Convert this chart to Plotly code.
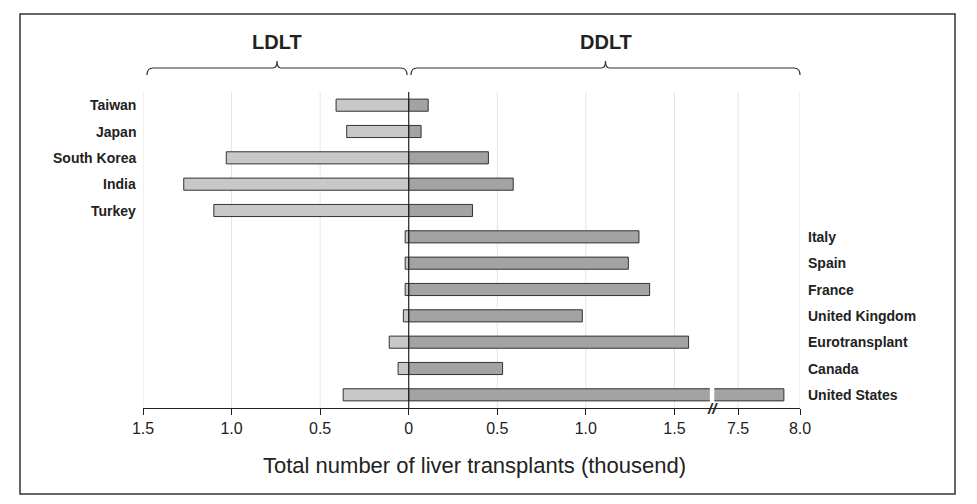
import plotly.graph_objects as go

countries = ["Taiwan", "Japan", "South Korea", "India", "Turkey", "Italy", "Spain",
             "France", "United Kingdom", "Eurotransplant", "Canada", "United States"]
ldlt = [0.41, 0.35, 1.03, 1.27, 1.10, 0.02, 0.02, 0.02, 0.03, 0.11, 0.06, 0.37]
ddlt = [0.11, 0.07, 0.45, 0.59, 0.36, 1.30, 1.24, 1.36, 0.98, 1.58, 0.53, 7.87]
label_side = ["left"] * 5 + ["right"] * 7
tick_values = [-1.5, -1.0, -0.5, 0, 0.5, 1.0, 1.5, 7.5, 8.0]
tick_labels = ["1.5", "1.0", "0.5", "0", "0.5", "1.0", "1.5", "7.5", "8.0"]


def broken(v):
    # axis break between 1.5 and 7.5
    if v < 7.5:
        return v
    return 1.859 + (v - 7.5) * 0.70


OFF = 8  # page body offset
W, H = 977, 504
L, R, T, B = 143 - OFF, 177 + OFF, 92 - OFF, 96 + OFF
pw, ph = W - L - R, H - T - B


def px(x):
    return (x - OFF - L) / pw


def py(y):
    return (H - B - (y - OFF)) / ph


fig = go.Figure()
fig.add_trace(go.Bar(y=countries, x=[-v for v in ldlt], orientation="h",
                     marker=dict(color="#c8c8ca", line=dict(color="#333", width=1)), width=0.46))
fig.add_trace(go.Bar(y=countries, x=[broken(v) for v in ddlt], orientation="h",
                     marker=dict(color="#a3a3a5", line=dict(color="#333", width=1)), width=0.46))

shapes = []
for tv in tick_values:
    if tv != 0:
        shapes.append(dict(type="line", x0=broken(tv), x1=broken(tv), y0=0, y1=1, xref="x", yref="paper",
                           line=dict(color="#e4e4e4", width=1), layer="below"))
shapes.append(dict(type="line", x0=0, x1=0, y0=0, y1=1, xref="x", yref="paper", line=dict(color="#222", width=1.2)))
# break gap on the US bar
shapes.append(dict(type="rect", x0=1.70, x1=1.725, y0=10.7, y1=11.3, xref="x", yref="y",
                   fillcolor="white", line=dict(width=0)))
# frame
shapes.append(dict(type="rect", x0=px(20), x1=px(955), y0=py(494), y1=py(14), xref="paper", yref="paper",
                   line=dict(color="#333", width=1.5)))
# brackets
for a, b in [(147, 407), (411, 800)]:
    m = (a + b) / 2
    path = (f"M {px(a)},{py(75)} Q {px(a)},{py(68)} {px(a+6)},{py(68)} L {px(m-4)},{py(68)} "
            f"Q {px(m)},{py(68)} {px(m)},{py(61)} Q {px(m)},{py(68)} {px(m+4)},{py(68)} "
            f"L {px(b-6)},{py(68)} Q {px(b)},{py(68)} {px(b)},{py(75)}")
    shapes.append(dict(type="path", path=path, xref="paper", yref="paper", line=dict(color="#333", width=1.2)))

ann = []
for c, s in zip(countries, label_side):
    ann.append(dict(x=px(138) if s == "left" else px(806), y=c, xref="paper", yref="y", text=c,
                    showarrow=False, xanchor="right" if s == "left" else "left",
                    font=dict(size=14, color="#222", family="Liberation Sans, Arial", weight="bold")))
ann.append(dict(x=px(277), y=py(42), xref="paper", yref="paper", text="<b>LDLT</b>", showarrow=False,
                xanchor="center", yanchor="middle", font=dict(size=20, color="#222")))
ann.append(dict(x=px(606), y=py(42), xref="paper", yref="paper", text="<b>DDLT</b>", showarrow=False,
                xanchor="center", yanchor="middle", font=dict(size=20, color="#222")))
ann.append(dict(x=px(712), y=py(408), xref="paper", yref="paper", text="<b><i>//</i></b>", showarrow=False,
                xanchor="center", yanchor="middle", font=dict(size=15, color="#222")))
ann.append(dict(x=px(474), y=py(465), xref="paper", yref="paper", text="Total number of liver transplants (thousend)",
                xanchor="center", yanchor="middle", showarrow=False, font=dict(size=22, color="#222")))

fig.update_layout(
    width=W, height=H, margin=dict(l=L, r=R, t=T, b=B),
    barmode="relative", showlegend=False, plot_bgcolor="white", paper_bgcolor="white",
    font=dict(family="Liberation Sans, Arial", color="#222"),
    xaxis=dict(range=[-1.5, broken(8.0)], tickvals=[broken(v) for v in tick_values], ticktext=tick_labels,
               showgrid=False, zeroline=False, showline=True, linecolor="#222", linewidth=1.2,
               ticks="outside", ticklen=6, tickcolor="#222", tickfont=dict(size=16)),
    yaxis=dict(categoryorder="array", categoryarray=countries, autorange="reversed",
               showticklabels=False, showgrid=False, zeroline=False, showline=False),
    shapes=shapes, annotations=ann,
)
fig.write_html("out.html")
